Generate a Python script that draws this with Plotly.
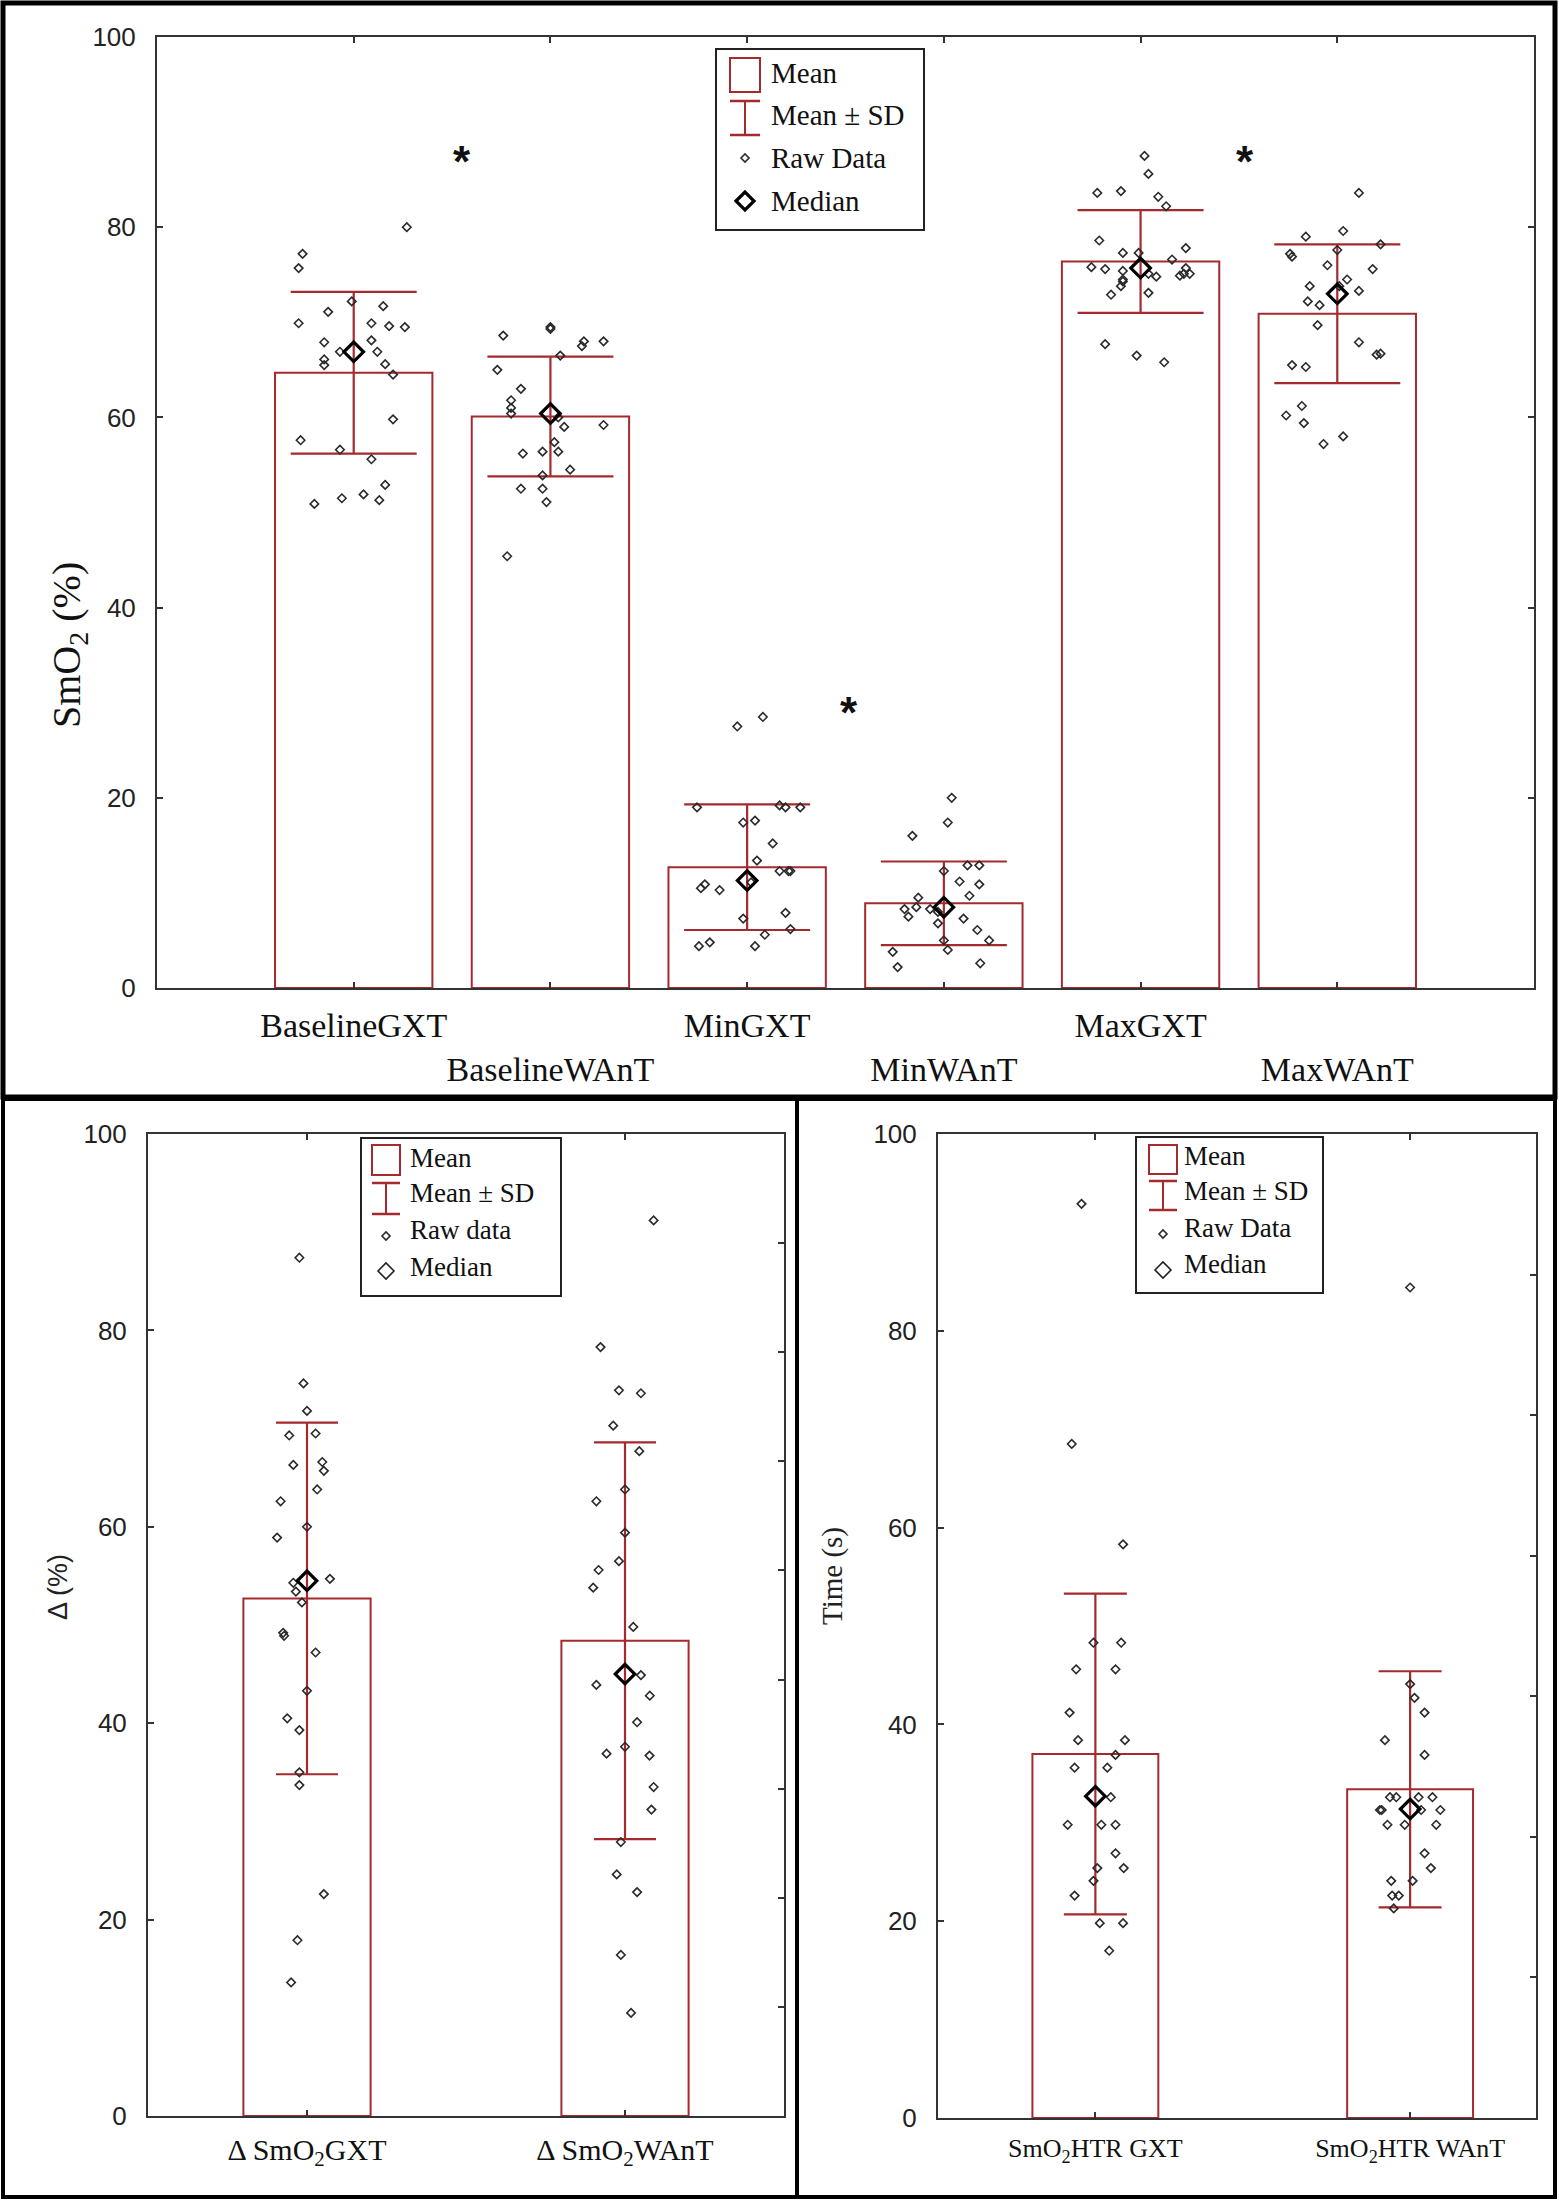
import plotly.graph_objects as go

W, H = 1559, 2201
RED = "#a52a2e"
PT = "#2a2a2a"
SERIF = "Liberation Serif"
SANS = "Liberation Sans"

# ---------------- Top panel data ----------------
top_categories = ["BaselineGXT", "BaselineWAnT", "MinGXT", "MinWAnT", "MaxGXT", "MaxWAnT"]
top_means = [64.7, 60.1, 12.7, 8.9, 76.4, 70.9]
top_sds = [8.5, 6.3, 6.6, 4.4, 5.4, 7.3]
top_medians = [66.9, 60.4, 11.3, 8.5, 75.7, 73.0]

baseline_gxt_raw = [77.2, 75.7, 80.0, 72.2, 71.7, 71.1, 69.9, 69.9, 69.6, 69.5, 67.9, 68.1, 66.9, 66.9,
                    66.1, 65.5, 65.6, 64.5, 59.8, 57.6, 56.6, 55.6, 52.9, 50.9, 51.5, 51.9, 51.3]
baseline_gxt_jit = [-0.26, -0.28, 0.27, -0.01, 0.15, -0.13, -0.28, 0.09, 0.18, 0.26, -0.15, 0.09, -0.07, 0.12,
                    -0.15, -0.15, 0.16, 0.2, 0.2, -0.27, -0.07, 0.09, 0.16, -0.2, -0.06, 0.05, 0.13]
baseline_want_raw = [68.6, 69.5, 69.3, 67.5, 68.0, 68.0, 66.5, 65.0, 63.0, 61.8, 61.0, 60.4, 60.0, 59.0,
                     59.2, 57.4, 56.2, 56.4, 56.4, 54.5, 53.9, 52.5, 52.5, 51.1, 45.4]
baseline_want_jit = [-0.24, 0.0, 0.0, 0.16, 0.17, 0.27, 0.05, -0.27, -0.15, -0.2, -0.2, -0.2, 0.04, 0.07,
                     0.27, 0.02, -0.14, -0.04, 0.04, 0.1, -0.04, -0.15, -0.04, -0.02, -0.22]
min_gxt_raw = [27.5, 28.5, 19.0, 19.2, 19.0, 19.0, 17.4, 17.6, 15.2, 13.4, 12.3, 12.3, 12.3, 11.1,
               10.9, 10.5, 10.3, 7.3, 7.9, 6.2, 5.6, 4.4, 4.8, 4.4]
min_gxt_jit = [-0.05, 0.08, -0.255, 0.165, 0.195, 0.27, -0.02, 0.04, 0.13, 0.05, 0.165, 0.21, 0.22, 0.02,
               -0.215, -0.235, -0.14, -0.02, 0.195, 0.22, 0.09, -0.245, -0.19, 0.04]
min_want_raw = [20.0, 17.4, 16.0, 12.9, 12.9, 12.3, 11.2, 10.9, 9.7, 9.5, 8.5, 8.3, 7.5, 8.3,
                8.0, 7.3, 6.8, 6.1, 5.0, 5.0, 4.0, 3.8, 2.2, 2.6]
min_want_jit = [0.04, 0.02, -0.16, 0.12, 0.18, 0.0, 0.08, 0.18, 0.13, -0.13, -0.14, -0.2, -0.18, -0.07,
                -0.03, 0.1, -0.03, 0.17, 0.23, 0.0, 0.02, -0.26, -0.235, 0.185]
max_gxt_raw = [87.5, 85.6, 83.6, 83.8, 83.2, 82.2, 78.6, 77.8, 77.3, 77.3, 76.6, 75.8, 75.6, 75.4,
               74.8, 75.1, 74.5, 75.7, 75.1, 75.1, 74.9, 74.3, 73.8, 72.9, 73.1, 67.7, 66.5, 65.8]
max_gxt_jit = [0.02, 0.04, -0.22, -0.10, 0.09, 0.13, -0.21, 0.23, -0.09, -0.01, 0.16, -0.25, -0.18, -0.09,
               0.08, 0.04, -0.09, 0.23, 0.22, 0.25, 0.2, -0.09, -0.1, -0.15, 0.04, -0.18, -0.02, 0.12]
max_want_raw = [83.6, 79.6, 79.0, 78.2, 77.2, 76.9, 77.6, 76.0, 75.6, 74.5, 73.8, 73.3, 73.8,
                72.2, 71.8, 69.7, 67.9, 66.6, 66.7, 65.5, 65.3, 61.2, 60.2, 59.4, 58.0, 57.2]
max_want_jit = [0.11, 0.03, -0.16, 0.22, -0.24, -0.23, 0.0, -0.05, 0.18, 0.05, -0.14, 0.11, 0.01,
                -0.15, -0.09, -0.1, 0.11, 0.2, 0.22, -0.23, -0.16, -0.18, -0.26, -0.17, 0.03, -0.07]
top_raw = [baseline_gxt_raw, baseline_want_raw, min_gxt_raw, min_want_raw, max_gxt_raw, max_want_raw]
top_jit = [baseline_gxt_jit, baseline_want_jit, min_gxt_jit, min_want_jit, max_gxt_jit, max_want_jit]

star_x = [1.55, 3.52, 5.53]
star_y = [88, 30, 88]

# ---------------- Bottom-left (delta) data ----------------
delta_categories = ["\u0394 SmO<sub>2</sub>GXT", "\u0394 SmO<sub>2</sub>WAnT"]
delta_means = [52.7, 48.4]
delta_sds = [17.9, 20.2]
delta_medians = [54.5, 45.0]
delta_gxt_raw = [87.4, 74.6, 71.8, 69.3, 69.5, 66.3, 66.6, 65.7, 63.8, 62.6, 60.0, 58.9, 54.3, 54.7,
                 53.4, 52.3, 49.2, 48.9, 47.2, 43.3, 40.5, 39.3, 35.0, 33.7, 22.6, 17.9, 13.6]
delta_gxt_jit = [-0.024, -0.011, 0.0, -0.056, 0.027, -0.043, 0.048, 0.053, 0.032, -0.083, 0.0, -0.094,
                 -0.043, 0.072, -0.035, -0.016, -0.075, -0.072, 0.027, 0.0, -0.062, -0.024, -0.024,
                 -0.024, 0.053, -0.03, -0.05]
delta_want_raw = [91.2, 78.3, 73.9, 73.6, 70.3, 67.7, 63.8, 62.6, 59.4, 56.5, 55.6, 53.8, 49.8, 44.9,
                  43.9, 42.8, 40.1, 37.6, 36.9, 36.7, 33.5, 31.2, 27.9, 24.6, 22.8, 16.4, 10.5]
delta_want_jit = [0.09, -0.077, -0.019, 0.05, -0.037, 0.045, 0.0, -0.09, 0.0, -0.019, -0.083, -0.1,
                  0.026, 0.05, -0.09, 0.078, 0.038, 0.0, -0.058, 0.077, 0.09, 0.083, -0.013, -0.026,
                  0.038, -0.013, 0.019]
delta_raw = [delta_gxt_raw, delta_want_raw]
delta_jit = [delta_gxt_jit, delta_want_jit]

# ---------------- Bottom-right (HTR time) data ----------------
htr_categories = ["SmO<sub>2</sub>HTR GXT", "SmO<sub>2</sub>HTR WAnT"]
htr_means = [37.0, 33.4]
htr_sds = [16.3, 12.0]
htr_medians = [32.7, 31.4]
htr_gxt_raw = [92.9, 68.5, 58.3, 48.3, 48.3, 45.6, 45.6, 41.2, 38.4, 38.4, 36.9, 35.6, 35.6, 32.6,
               29.8, 29.8, 29.8, 26.9, 25.4, 25.4, 24.1, 22.6, 19.8, 19.8, 17.0]
htr_gxt_jit = [-0.044, -0.075, 0.088, -0.006, 0.082, -0.061, 0.064, -0.082, -0.055, 0.094, 0.064,
               -0.066, 0.038, 0.049, -0.088, 0.019, 0.064, 0.064, 0.006, 0.09, -0.006, -0.066,
               0.014, 0.088, 0.044]
htr_want_raw = [84.4, 44.1, 42.7, 41.2, 38.4, 36.9, 32.6, 32.6, 32.6, 32.6, 31.3, 31.3, 31.3, 31.3,
                29.8, 29.8, 29.8, 26.9, 25.4, 24.1, 24.1, 22.6, 22.6, 21.3]
htr_want_jit = [0.0, 0.0, 0.014, 0.046, -0.08, 0.046, -0.064, -0.044, 0.027, 0.071, -0.096, -0.09,
                0.035, 0.096, -0.072, -0.017, 0.083, 0.046, 0.066, -0.06, 0.008, -0.057, -0.036, -0.052]
htr_raw = [htr_gxt_raw, htr_want_raw]
htr_jit = [htr_gxt_jit, htr_want_jit]

y_ticks = [0, 20, 40, 60, 80, 100]


def lx(x):
    return x / W


def ly(y):
    return 1 - y / H


fig = go.Figure()


def add_panel(xa, ya, means, sds, medians, raws, jits, bar_width, cap_half):
    n = len(means)
    pos = list(range(1, n + 1))
    fig.add_trace(go.Bar(
        x=pos, y=means, width=bar_width, xaxis=xa, yaxis=ya,
        marker=dict(color="rgba(255,255,255,0)", line=dict(color=RED, width=2)),
        error_y=dict(type="data", array=sds, visible=True, color=RED, thickness=2.2, width=cap_half),
        showlegend=False, hoverinfo="skip"))
    for i in range(n):
        fig.add_trace(go.Scatter(
            x=[pos[i] + j for j in jits[i]], y=raws[i], mode="markers", xaxis=xa, yaxis=ya,
            marker=dict(symbol="diamond-open", size=6.5, color=PT, line=dict(width=1.6, color=PT)),
            showlegend=False, hoverinfo="skip"))
    fig.add_trace(go.Scatter(
        x=pos, y=medians, mode="markers", xaxis=xa, yaxis=ya,
        marker=dict(symbol="diamond-open", size=15, color="#000", line=dict(width=3.2, color="#000")),
        showlegend=False, hoverinfo="skip"))


add_panel("x", "y", top_means, top_sds, top_medians, top_raw, top_jit, 0.8, 63)
add_panel("x2", "y2", delta_means, delta_sds, delta_medians, delta_raw, delta_jit, 0.4, 31)
add_panel("x3", "y3", htr_means, htr_sds, htr_medians, htr_raw, htr_jit, 0.4, 31.5)

# invisible anchors for the secondary right-hand tick axes
fig.add_trace(go.Scatter(x=[1], y=[0], xaxis="x2", yaxis="y4", mode="markers",
                         marker=dict(opacity=0), showlegend=False, hoverinfo="skip"))
fig.add_trace(go.Scatter(x=[1], y=[0], xaxis="x3", yaxis="y5", mode="markers",
                         marker=dict(opacity=0), showlegend=False, hoverinfo="skip"))

axis_common = dict(showgrid=False, zeroline=False, showline=True, linecolor="#333", linewidth=2,
                   ticks="inside", ticklen=6, tickwidth=1.5, tickcolor="#333", automargin=False)

top_ticktext = [t if i % 2 == 0 else " <br>" + t for i, t in enumerate(top_categories)]

fig.update_layout(
    template="none",
    width=W, height=H, margin=dict(l=0, r=0, t=0, b=0, pad=0, autoexpand=False),
    paper_bgcolor="white", plot_bgcolor="white", showlegend=False,
    xaxis=dict(domain=[lx(157), lx(1534)], range=[0, 7], anchor="y", mirror="ticks", tickangle=0,
               tickvals=[1, 2, 3, 4, 5, 6], ticktext=top_ticktext, ticklabelstandoff=6,
               tickfont=dict(family=SERIF, size=34, color="#111"), **axis_common),
    yaxis=dict(domain=[ly(988), ly(37)], range=[0, 100], anchor="x", mirror="ticks",
               tickvals=y_ticks, ticklabelstandoff=14,
               tickfont=dict(family=SANS, size=26, color="#222"), **axis_common),
    xaxis2=dict(domain=[lx(148), lx(784)], range=[0.5, 2.5], anchor="y2", mirror="ticks", tickangle=0,
                tickvals=[1, 2], ticktext=delta_categories, ticklabelstandoff=6,
                tickfont=dict(family=SERIF, size=30, color="#111"), **axis_common),
    yaxis2=dict(domain=[ly(2116), ly(1134)], range=[0, 100], anchor="x2", mirror=True,
                tickvals=y_ticks, ticklabelstandoff=14,
                tickfont=dict(family=SANS, size=26, color="#222"), **axis_common),
    xaxis3=dict(domain=[lx(938), lx(1536)], range=[0.5, 2.4], anchor="y3", mirror="ticks", tickangle=0,
                tickvals=[1, 2], ticktext=htr_categories, ticklabelstandoff=6,
                tickfont=dict(family=SERIF, size=26, color="#111"), **axis_common),
    yaxis3=dict(domain=[ly(2118), ly(1134)], range=[0, 100], anchor="x3", mirror=True,
                tickvals=y_ticks, ticklabelstandoff=14,
                tickfont=dict(family=SANS, size=26, color="#222"), **axis_common),
    yaxis4=dict(overlaying="y2", anchor="x2", side="right", range=[0, 9], tickvals=list(range(1, 9)),
                showticklabels=False, showgrid=False, zeroline=False, showline=False, automargin=False,
                ticks="inside", ticklen=6, tickwidth=1.5, tickcolor="#333"),
    yaxis5=dict(overlaying="y3", anchor="x3", side="right", range=[0, 7], tickvals=list(range(1, 7)),
                showticklabels=False, showgrid=False, zeroline=False, showline=False, automargin=False,
                ticks="inside", ticklen=6, tickwidth=1.5, tickcolor="#333"),
)

shapes = []
annotations = []

# significance stars
for sx, sy in zip(star_x, star_y):
    annotations.append(dict(x=sx, y=sy, xref="x", yref="y", text="<b>*</b>", showarrow=False,
                            yshift=-10, font=dict(family=SANS, size=44, color="#111")))

# axis titles
annotations.append(dict(x=lx(42), y=ly(560), xref="paper", yref="paper", text="SmO<sub>2</sub> (%)",
                        textangle=-90, showarrow=False, font=dict(family=SERIF, size=40, color="#111")))
annotations.append(dict(x=lx(41), y=ly(1622), xref="paper", yref="paper", text="\u0394 (%)",
                        textangle=-90, showarrow=False, font=dict(family=SANS, size=27, color="#222")))
annotations.append(dict(x=lx(832), y=ly(1627), xref="paper", yref="paper", text="Time (s)",
                        textangle=-90, showarrow=False, font=dict(family=SERIF, size=29, color="#222")))


def rect(x0, y0, x1, y1, color, width):
    shapes.append(dict(type="rect", xref="paper", yref="paper", x0=lx(x0), x1=lx(x1), y0=ly(y1), y1=ly(y0),
                       line=dict(color=color, width=width), fillcolor="rgba(0,0,0,0)"))


def seg(x0, y0, x1, y1, color, width):
    shapes.append(dict(type="line", xref="paper", yref="paper", x0=lx(x0), x1=lx(x1), y0=ly(y0), y1=ly(y1),
                       line=dict(color=color, width=width)))


def diamond(cx, cy, r, color, width):
    p = "M {},{} L {},{} L {},{} L {},{} Z".format(lx(cx - r), ly(cy), lx(cx), ly(cy - r),
                                                  lx(cx + r), ly(cy), lx(cx), ly(cy + r))
    shapes.append(dict(type="path", xref="paper", yref="paper", path=p,
                       line=dict(color=color, width=width), fillcolor="rgba(0,0,0,0)"))


def legend(box, cx, rect_y, err_y, raw_y, med_y, med_bold, text_x, text_ys, labels, size):
    rect(box[0], box[1], box[2], box[3], "#222", 2)
    half = 15 if size > 28 else 14
    rect(cx - half, rect_y[0], cx + half, rect_y[1], RED, 2)
    seg(cx, err_y[0], cx, err_y[1], RED, 2)
    seg(cx - half, err_y[0], cx + half, err_y[0], RED, 2.5)
    seg(cx - half, err_y[1], cx + half, err_y[1], RED, 2.5)
    diamond(cx, raw_y, 4, PT, 1.6)
    if med_bold:
        diamond(cx, med_y, 9, "#000", 3.2)
    else:
        diamond(cx, med_y, 8, "#222", 1.6)
    for t, ty in zip(labels, text_ys):
        annotations.append(dict(x=lx(text_x), y=ly(ty), xref="paper", yref="paper", text=t,
                                xanchor="left", yanchor="middle", showarrow=False,
                                font=dict(family=SERIF, size=size, color="#111")))


legend((716, 49, 924, 230), 745, (58, 92), (101, 135), 158, 201, True, 769,
       [73, 115, 158, 201], ["Mean", "Mean \u00b1 SD", "Raw Data", "Median"], 29)
legend((361, 1138, 561, 1296), 386, (1145, 1175), (1183, 1214), 1236, 1271, False, 408,
       [1158, 1193, 1230, 1267], ["Mean", "Mean \u00b1 SD", "Raw data", "Median"], 27)
legend((1136, 1137, 1323, 1293), 1163, (1145, 1174), (1181, 1210), 1234, 1270, False, 1182,
       [1156, 1191, 1228, 1264], ["Mean", "Mean \u00b1 SD", "Raw Data", "Median"], 27)

# panel frames
rect(3, 3, 1555, 1097, "#000", 5)
rect(3, 1099, 797, 2197, "#000", 4)
rect(797, 1099, 1555, 2197, "#000", 4)

fig.update_layout(shapes=shapes, annotations=annotations)

fig.write_html("out.html", config={"displayModeBar": False},
               post_script="document.body.style.margin='0';document.body.style.overflow='hidden';")
